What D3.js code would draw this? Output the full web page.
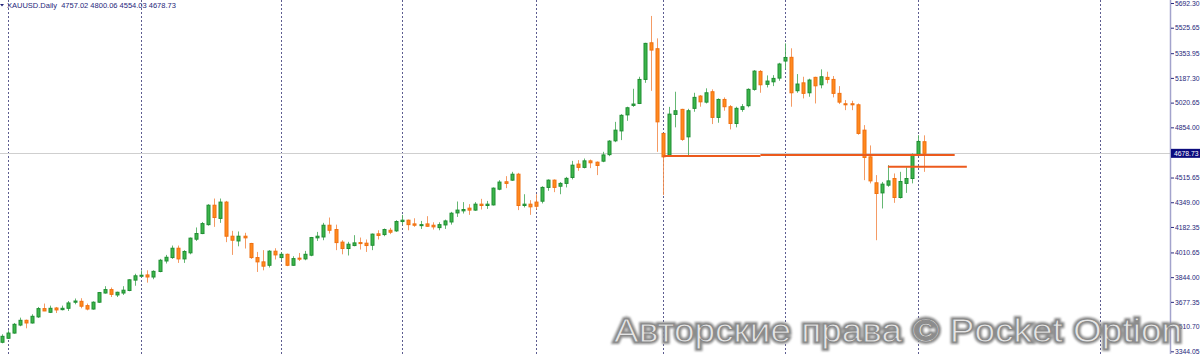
<!DOCTYPE html>
<html lang="en">
<head>
<meta charset="utf-8">
<title>XAUUSD Daily</title>
<script src="https://cdn.jsdelivr.net/npm/d3@7"></script>
<style>
  body { margin: 0; background: #fff; }
  svg { display: block; font-family: "Liberation Sans", Arial, sans-serif; }
</style>
</head>
<body>
<div id="chart"></div>
<script>

// daily candles
var openV = [3405,3432,3467,3521,3553,3535,3576,3632,3607,3636,3625,3634,3675,3681,3652,3629,3675,3737,3760,3724,
  3737,3754,3824,3850,3859,3845,3882,3953,3976,4039,3967,4008,4100,4138,4198,4329,4240,4350,4120,4088,
  4120,4071,3976,3947,3924,4019,3976,3998,3924,3972,3967,3992,4109,4115,4194,4165,4080,4037,4057,4077,
  4073,4059,4136,4131,4160,4156,4219,4228,4203,4194,4203,4194,4178,4196,4216,4277,4291,4309,4296,4336,
  4327,4331,4437,4487,4498,4538,4327,4336,4350,4356,4449,4498,4457,4476,4516,4606,4584,4628,4619,4626,
  4670,4763,4830,4938,5002,5015,5177,5424,5384,4813,4667,4941,4975,4790,4982,5065,5024,5094,4921,5042,
  4993,4880,4975,5000,5110,5231,5144,5161,5186,5301,5326,5101,5154,5087,5191,5141,5191,5177,5083,5013,
  5013,5006,4835,4655,4480,4412,4464,4509,4381,4476,4509,4673,4757.02]
var highV = [3459,3486,3535,3571,3558,3594,3643,3666,3652,3643,3652,3683,3700,3702,3666,3681,3744,3783,3774,3746,
  3783,3830,3867,3890,3890,3890,3967,3994,4057,4057,4026,4111,4179,4216,4336,4374,4374,4358,4156,4152,
  4143,4075,4014,4026,4026,4039,4012,4003,3985,4007,4021,4115,4149,4210,4246,4198,4093,4082,4127,4111,
  4098,4138,4160,4172,4176,4228,4264,4232,4241,4223,4255,4214,4214,4232,4284,4354,4350,4336,4350,4372,
  4358,4449,4498,4525,4554,4547,4403,4363,4403,4457,4503,4503,4485,4520,4628,4633,4644,4637,4624,4689,
  4768,4891,4943,4993,5114,5195,5424,5605,5454,4813,4992,5094,4979,4979,5087,5072,5117,5110,5049,5056,
  5004,4993,5011,5117,5240,5240,5204,5206,5289,5420,5387,5213,5195,5182,5195,5245,5229,5200,5132,5038,
  5033,5015,4869,4732,4532,4486,4599,4543,4554,4584,4678,4801,4800.06]
var lowV = [3398,3427,3463,3513,3499,3531,3569,3615,3602,3602,3620,3616,3661,3634,3620,3625,3670,3733,3710,3710,
  3724,3749,3786,3845,3807,3830,3877,3936,3967,3940,3940,3998,4088,4134,4191,4183,4210,4080,3994,4052,
  4037,3967,3879,3890,3909,3963,3958,3918,3920,3953,3958,3985,4088,4093,4138,4026,3998,3990,4052,4030,
  4014,4026,4098,4120,4134,4149,4198,4160,4183,4169,4183,4165,4160,4169,4198,4250,4273,4264,4291,4300,
  4304,4327,4430,4444,4493,4296,4314,4264,4300,4341,4426,4417,4403,4449,4503,4561,4577,4579,4532,4619,
  4660,4754,4768,4898,4992,5011,5154,5100,4689,4397,4655,4854,4763,4655,4959,4993,5015,4876,4885,4966,
  4840,4854,4959,4989,5101,5087,5123,5132,5168,5247,4993,5087,5049,5060,5015,5117,5150,5056,5011,4970,
  4970,4804,4498,4476,4093,4307,4453,4345,4374,4412,4476,4660,4554.03]
var closeV = [3445,3467,3526,3553,3535,3580,3632,3616,3634,3623,3634,3670,3683,3648,3629,3675,3740,3760,3728,3742,
  3756,3826,3853,3857,3845,3883,3958,3978,4039,3967,4017,4107,4138,4205,4329,4246,4350,4120,4093,4120,
  4109,3976,3947,3918,4019,3994,3998,3924,3969,3967,3998,4111,4120,4194,4160,4077,4037,4066,4075,4071,
  4057,4134,4125,4165,4147,4219,4228,4198,4194,4198,4187,4183,4198,4223,4275,4296,4300,4296,4336,4327,
  4336,4444,4485,4476,4538,4327,4336,4318,4322,4449,4498,4449,4476,4510,4599,4584,4628,4615,4597,4668,
  4761,4835,4935,4986,5011,5177,5420,5375,4891,4655,4943,4966,4773,4966,5056,5026,5087,4921,5042,4993,
  4880,4982,4993,5110,5233,5141,5166,5184,5281,5325,5087,5146,5083,5173,5134,5195,5177,5083,5024,5006,
  5006,4813,4651,4493,4408,4471,4493,4381,4489,4509,4667,4759,4678.73]

var gridIdx = [1, 23, 46, 66, 88, 109, 129, 151, 181]
var priceTicks = [5692.30, 5525.65, 5353.95, 5187.30, 5020.65, 4854.00, 4515.65, 4349.00,
  4182.35, 4010.65, 3844.00, 3677.35, 3510.70, 3344.05]
// drawn horizontal levels: [from bar, to bar, price]
var levelFrom = [109, 125, 146]
var levelTo = [125, 157, 159]
var levelPrice = [4661, 4668, 4588]

var symbol = "XAUUSD.Daily"
var lastPrice = 4678.73
var watermark = "Авторские права © Pocket Option"

var W = 1200, H = 354, axisX = 1170

var svg = d3.select("#chart")
  .append("svg")
  .attr("width", W)
  .attr("height", H)

var x = d3.scaleLinear().domain([0, 152]).range([1.7, 1.7 + 152 * 6.07])
var y = d3.scaleLinear().domain([3344.05, 5692.30]).range([351.3, 3])

var bars = openV.map(function(o, i) {
  return { i: i, o: o, h: highV[i], l: lowV[i], c: closeV[i] }
})

// vertical dotted grid
svg.selectAll(".grid")
  .data(gridIdx)
  .enter()
  .append("line")
  .attr("x1", function(d) { return Math.round(x(d)) + 0.5 })
  .attr("x2", function(d) { return Math.round(x(d)) + 0.5 })
  .attr("y1", 0)
  .attr("y2", H)
  .attr("stroke", "#5c5c90")
  .attr("stroke-dasharray", "2,2")

// last price line
svg.append("line")
  .attr("x1", 0).attr("x2", axisX)
  .attr("y1", Math.round(y(lastPrice)) + 0.5)
  .attr("y2", Math.round(y(lastPrice)) + 0.5)
  .attr("stroke", "#cfcfcf")

// candles
var candle = svg.selectAll(".bar")
  .data(bars)
  .enter()
  .append("g")

candle.append("line")
  .attr("x1", function(d) { return Math.round(x(d.i)) + 0.5 })
  .attr("x2", function(d) { return Math.round(x(d.i)) + 0.5 })
  .attr("y1", function(d) { return y(d.h) })
  .attr("y2", function(d) { return y(d.l) })
  .attr("stroke", function(d) { return d.c >= d.o ? "#4aaa5a" : "#f2894a" })
  .attr("stroke-opacity", 0.85)

candle.append("rect")
  .attr("x", function(d) { return Math.round(x(d.i)) - 1 })
  .attr("width", 3)
  .attr("y", function(d) { return y(Math.max(d.o, d.c)) })
  .attr("height", function(d) { return Math.max(1, Math.abs(y(d.o) - y(d.c))) })
  .attr("fill", function(d) { return d.c >= d.o ? "#3db54a" : "#ff8a1e" })
  .attr("stroke", function(d) { return d.c >= d.o ? "#1f8e33" : "#f07010" })
  .attr("stroke-width", 1)

// horizontal levels
svg.selectAll(".level")
  .data(levelPrice)
  .enter()
  .append("line")
  .attr("x1", function(d, i) { return x(levelFrom[i]) })
  .attr("x2", function(d, i) { return x(levelTo[i]) })
  .attr("y1", function(d) { return y(d) })
  .attr("y2", function(d) { return y(d) })
  .attr("stroke", "#ec5a1c")
  .attr("stroke-width", 2)

// price axis
svg.append("line")
  .attr("x1", axisX + 0.5).attr("x2", axisX + 0.5)
  .attr("y1", 0).attr("y2", H)
  .attr("stroke", "#a3a3cc")
  .attr("stroke-width", 1.5)

var axis = d3.axisRight(y)
  .tickValues(priceTicks)
  .tickSize(3)
  .tickPadding(1)
  .tickFormat(d3.format(".2f"))

var ax = svg.append("g")
  .attr("transform", "translate(" + (axisX + 1) + ",0)")
  .call(axis)
ax.select(".domain").remove()
ax.selectAll(".tick line").attr("stroke", "#2a2a80")
ax.selectAll(".tick text")
  .attr("fill", "#26267a")
  .attr("font-size", 6.8)
  .attr("font-family", "Liberation Sans, Arial, sans-serif")

// last price tag
var ly = y(lastPrice)
svg.append("rect")
  .attr("x", axisX + 1).attr("y", ly - 4.5)
  .attr("width", W - axisX - 1).attr("height", 9)
  .attr("fill", "#0c0c7e")
svg.append("text")
  .attr("x", axisX + 4).attr("y", ly + 2.5)
  .attr("font-size", 6.8)
  .attr("fill", "#ffffff")
  .text(d3.format(".2f")(lastPrice))

// title
svg.append("path")
  .attr("d", "M0,4 L4,4 L2,6.5 Z")
  .attr("fill", "#26267a")
svg.append("text")
  .attr("x", 7).attr("y", 7.5)
  .attr("font-size", 7.5)
  .attr("fill", "#26267a")
  .style("white-space", "pre")
  .text(symbol + "  " + [openV[152], highV[152], lowV[152], closeV[152]].map(d3.format(".2f")).join(" "))

// watermark on top
var defs = svg.append("defs")
defs.append("filter").attr("id", "soft")
  .append("feGaussianBlur").attr("stdDeviation", 1.2)
var wm = svg.append("g")
wm.append("text")
  .attr("x", 614).attr("y", 342)
  .attr("font-size", 34)
  .attr("textLength", 568)
  .attr("lengthAdjust", "spacingAndGlyphs")
  .attr("fill", "none")
  .attr("stroke", "#8c8c8c")
  .attr("stroke-width", 4)
  .attr("filter", "url(#soft)")
  .text(watermark)
wm.append("text")
  .attr("x", 614).attr("y", 342)
  .attr("font-size", 34)
  .attr("textLength", 568)
  .attr("lengthAdjust", "spacingAndGlyphs")
  .attr("fill", "#ffffff")
  .attr("fill-opacity", 0.8)
  .attr("stroke", "#8a8a8a")
  .attr("stroke-width", 1)
  .text(watermark)

</script>
</body>
</html>
